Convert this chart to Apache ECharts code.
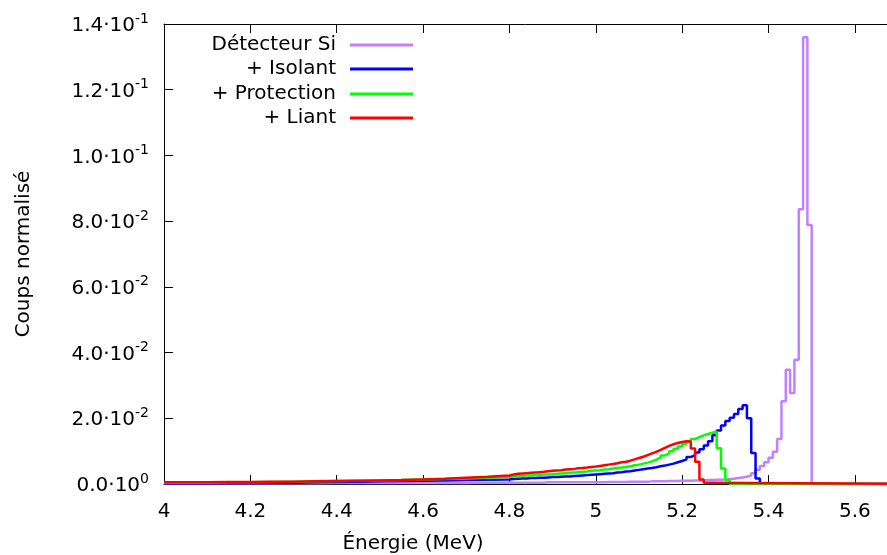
<!DOCTYPE html>
<html><head><meta charset="utf-8">
<script src="https://cdn.jsdelivr.net/npm/echarts@6/dist/echarts.min.js"></script>
<style>html,body{margin:0;padding:0;background:#fff}#c{width:887px;height:555px}</style>
</head><body><div id="c"></div><script>
// ---- data ----
const seriesNames = ['Détecteur Si', '+ Isolant', '+ Protection', '+ Liant'];
const seriesColors = ['#c080ff', '#0000ff', '#00ff00', '#ff0000'];
// coarse tail bin edges (MeV)
const tailE = [4.00,4.05,4.10,4.15,4.20,4.25,4.30,4.35,4.40,4.45,4.50,4.55,4.60,4.65,4.70,4.75];
// fine bin edges (MeV)
const fineE = [4.80,4.81,4.82,4.83,4.84,4.85,4.86,4.87,4.88,4.89,
  4.90,4.91,4.92,4.93,4.94,4.95,4.96,4.97,4.98,4.99,
  5.00,5.01,5.02,5.03,5.04,5.05,5.06,5.07,5.08,5.09,
  5.10,5.11,5.12,5.13,5.14,5.15,5.16,5.17,5.18,5.19,
  5.20,5.21,5.22,5.23,5.24,5.25,5.26,5.27,5.28,5.29,
  5.30,5.31,5.32,5.33,5.34,5.35,5.36,5.37,5.38,5.39,
  5.40,5.41,5.42,5.43,5.44,5.45,5.46,5.47,5.48,5.49,5.50];

const siTail = [0.0002,0.0002,0.0002,0.0002,0.0002,0.0002,0.0002,0.0003,0.0003,0.0003,0.0003,0.0003,0.0003,0.0003,0.0004,0.0004];
const siFine = [0.0004,0.0004,0.0004,0.0004,0.0004,0.0004,0.0004,0.0004,0.0005,0.0005,
  0.0005,0.0005,0.0005,0.0005,0.0005,0.0005,0.0005,0.0005,0.0005,0.0005,
  0.0005,0.0005,0.0006,0.0006,0.0006,0.0006,0.0006,0.0007,0.0007,0.0007,
  0.0007,0.0007,0.0008,0.0008,0.0008,0.0008,0.0009,0.0009,0.0009,0.0010,
  0.0010,0.0010,0.0011,0.0011,0.0011,0.0012,0.0012,0.0013,0.0013,0.0014,
  0.0015,0.0016,0.0018,0.0020,0.0022,0.0026,0.0033,0.0043,0.0055,0.0066,
  0.0080,0.0098,0.0137,0.0252,0.0348,0.0277,0.0378,0.0836,0.1360,0.0788];

const isoTail = [0.0002,0.0002,0.0003,0.0003,0.0004,0.0004,0.0005,0.0006,0.0007,0.0008,0.0009,0.0010,0.0011,0.0012,0.0013,0.0014];
const isoFine = [0.0015,0.0016,0.0017,0.0017,0.0018,0.0018,0.0019,0.0019,0.0020,0.0021,
  0.0021,0.0022,0.0023,0.0023,0.0024,0.0025,0.0026,0.0027,0.0028,0.0029,
  0.0030,0.0031,0.0032,0.0033,0.0035,0.0036,0.0038,0.0039,0.0041,0.0043,
  0.0045,0.0047,0.0049,0.0051,0.0054,0.0056,0.0059,0.0062,0.0066,0.0070,
  0.0075,0.0082,0.0088,0.0096,0.0106,0.0117,0.0130,0.0148,0.0163,0.0178,
  0.0192,0.0202,0.0213,0.0228,0.0240,0.0200,0.0094,0.0017];

const proTail = [0.0004,0.0004,0.0005,0.0005,0.0006,0.0007,0.0008,0.0009,0.0010,0.0011,0.0012,0.0014,0.0015,0.0017,0.0019,0.0021];
const proFine = [0.0023,0.0024,0.0025,0.0026,0.0026,0.0027,0.0028,0.0029,0.0029,0.0030,
  0.0031,0.0032,0.0033,0.0034,0.0035,0.0036,0.0037,0.0038,0.0040,0.0041,
  0.0042,0.0044,0.0045,0.0047,0.0049,0.0050,0.0052,0.0054,0.0057,0.0059,
  0.0062,0.0065,0.0069,0.0074,0.0080,0.0087,0.0093,0.0100,0.0107,0.0114,
  0.0122,0.0130,0.0137,0.0143,0.0148,0.0152,0.0156,0.0160,0.0109,0.0047,
  0.0012];

const liaTail = [0.0005,0.0005,0.0006,0.0006,0.0007,0.0007,0.0008,0.0009,0.0010,0.0011,0.0012,0.0014,0.0016,0.0019,0.0022,0.0026];
const liaFine = [0.0029,0.0031,0.0032,0.0033,0.0034,0.0035,0.0036,0.0037,0.0039,0.0040,
  0.0041,0.0042,0.0044,0.0045,0.0046,0.0048,0.0049,0.0050,0.0052,0.0053,
  0.0055,0.0057,0.0059,0.0061,0.0063,0.0066,0.0068,0.0071,0.0075,0.0079,
  0.0083,0.0088,0.0093,0.0098,0.0104,0.0110,0.0116,0.0121,0.0125,0.0128,
  0.0130,0.0129,0.0108,0.0068,0.0014,0.0004];

const xTickLabels = ['4','4.2','4.4','4.6','4.8','5','5.2','5.4','5.6'];
const yTickMant = ['0.0','2.0','4.0','6.0','8.0','1.0','1.2','1.4'];
const yTickExp = ['0','-2','-2','-2','-2','-1','-1','-1'];

// ---- chart ----
const FONT = "'DejaVu Sans', sans-serif";
const XMAX = 5.6744;
function build(tail, fine) {
  const d = [];
  tail.forEach((v, i) => d.push([tailE[i], v]));
  fine.forEach((v, i) => d.push([fineE[i], v]));
  d.push([fineE[fine.length], 0]);
  d.push([5.8, 0]);
  return d;
}
const datasets = [build(siTail, siFine), build(isoTail, isoFine), build(proTail, proFine), build(liaTail, liaFine)];
const legendTops = [35, 59, 84, 108];

const chart = echarts.init(document.getElementById('c'), null, {renderer: 'canvas'});
const axisCommon = {
  type: 'value', min: 4, max: XMAX, interval: 0.2,
  axisLine: {show: true, lineStyle: {color: '#000', width: 1}},
  axisTick: {show: true, inside: true, length: 9, lineStyle: {color: '#000', width: 1}},
  splitLine: {show: false}
};
chart.setOption({
  animation: false,
  backgroundColor: '#fff',
  grid: {left: 164, right: 0, top: 24, bottom: 71, containLabel: false, outerBoundsMode: 'none'},
  xAxis: [
    Object.assign({}, axisCommon, {
      position: 'bottom',
      axisLabel: {
        margin: 18, fontFamily: FONT, fontSize: 20, color: '#000', showMaxLabel: false,
        formatter: v => { const i = Math.round((v - 4) / 0.2); return Math.abs(v - 4 - i * 0.2) < 1e-6 ? (xTickLabels[i] || '') : ''; }
      },
      name: 'Énergie (MeV)', nameLocation: 'middle', nameGap: 50,
      nameTextStyle: {fontFamily: FONT, fontSize: 20, color: '#000', padding: [0, 225, 0, 0]}
    }),
    Object.assign({}, axisCommon, {position: 'top', axisLabel: {show: false}})
  ],
  yAxis: {
    type: 'value', min: 0, max: 0.14, interval: 0.02,
    axisLine: {show: true, lineStyle: {color: '#000', width: 1}},
    axisTick: {show: true, inside: true, length: 9, lineStyle: {color: '#000', width: 1}},
    splitLine: {show: false},
    axisLabel: {
      margin: 15,
      formatter: v => { const i = Math.round(v / 0.02); return '{m|' + yTickMant[i] + '·10}{e|' + yTickExp[i] + '}'; },
      rich: {
        m: {fontFamily: FONT, fontSize: 20, color: '#000', lineHeight: 24, verticalAlign: 'bottom'},
        e: {fontFamily: FONT, fontSize: 14, color: '#000', lineHeight: 15, verticalAlign: 'top'}
      }
    },
    name: 'Coups normalisé', nameLocation: 'middle', nameGap: 130,
    nameTextStyle: {fontFamily: FONT, fontSize: 20, color: '#000'}
  },
  legend: seriesNames.map((n, i) => ({
    data: [n], orient: 'vertical', right: 474, top: legendTops[i], align: 'right',
    icon: 'rect', itemWidth: 63, itemHeight: 3, itemGap: 0, padding: 0, selectedMode: false,
    textStyle: {fontFamily: FONT, fontSize: 20, color: '#000', padding: [0, 9, 0, 0]}
  })),
  series: seriesNames.map((n, i) => ({
    name: n, type: 'line', step: 'end', symbol: 'none', data: datasets[i],
    xAxisIndex: 0, yAxisIndex: 0,
    lineStyle: {color: seriesColors[i], width: 2.5},
    itemStyle: {color: seriesColors[i]}
  }))
});
</script></body></html>
